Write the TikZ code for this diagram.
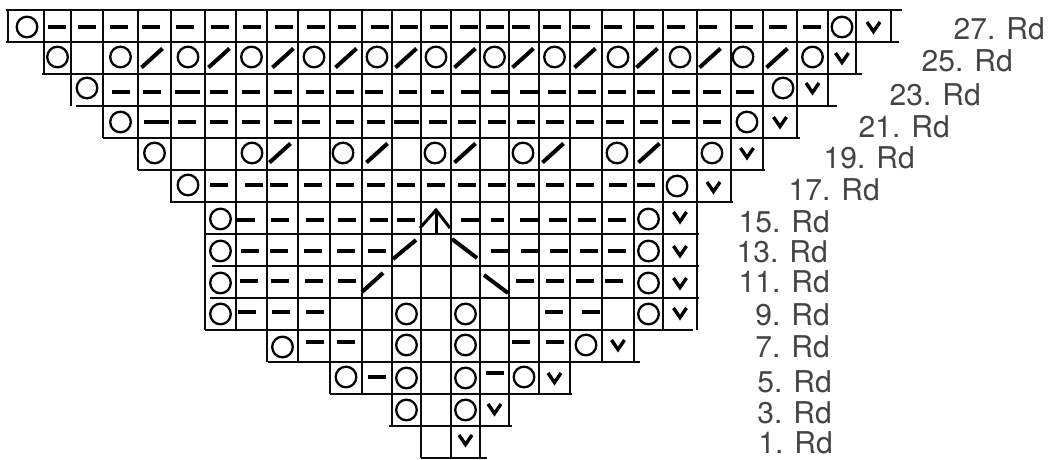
\documentclass[tikz,border=0pt]{standalone}
\usepackage{fontspec}
\setmainfont{TeX Gyre Heros}
\definecolor{ink}{HTML}{0A0A0A}
\definecolor{labelink}{HTML}{444444}
\def\XA{{8,44,71,103,138,171,205,236,267,298,330,362,392,421,451,480,509,539,570,602,634,663,697,731,763,797,828,856,891}}
\def\CA{{26,57.5,87,120.5,154.5,188,220.5,251.5,282.5,314,346,377,406.5,436,465.5,494.5,524,554.5,586,618,648.5,680,713.5,747,780,812.5,842,873.5}}
\tikzset{
  gridline/.style={draw=ink,line width=2pt},
  knitdash/.style={draw=black,line width=4.8pt},
  knitslash/.style={draw=black,line width=4pt},
  knitpeak/.style={draw=black,line width=3pt},
  knitring/.style={draw=black,line width=2.3pt},
  knitvee/.style={draw=black,line width=3.4pt,line join=miter},
  rowlabel/.style={anchor=base east,inner sep=0pt,text=labelink,font=\fontsize{30}{30}\selectfont}
}
\newcommand\ringat[2]{\pgfmathsetmacro\cx{\CA[#1]}\draw[knitring] (\cx,#2) circle (10.3);}
\newcommand\ringx[2]{\draw[knitring] (#1,#2) circle (10.3);}
\newcommand\veeat[2]{\pgfmathsetmacro\cx{\CA[#1]}\draw[knitvee] (\cx-6.5,#2-5) -- (\cx,#2+4.5) -- (\cx+6.5,#2-5);}
\newcommand\slashat[2]{\draw[knitslash] (#1-10.5,#2+9.5) -- (#1+10.5,#2-9.5);}
\begin{document}
\begin{tikzpicture}[x=1pt,y=-1pt]
\useasboundingbox (0,0) rectangle (1050,459);
% rows: top y / left index / right index
\foreach \r/\a/\b in {0/0/28,1/1/27,2/2/26,3/3/25,4/4/24,5/5/23,6/6/22,7/6/22,8/6/22,9/6/22,10/8/20,11/10/18,12/12/16,13/13/15}{
  \foreach \c in {\a,...,\b}{
    \pgfmathsetmacro\vx{\XA[\c]}
    \draw[gridline] (\vx,10+32*\r) -- (\vx,42+32*\r);
  }
}
% horizontal lines
\foreach \y/\p/\q in {10/6/902,42/6/899,74/42/862,106/76/837,138/103/800,170/138/765,202/170/733,234/205/699,266/212/699,298/210/699,330/205/693,362/268/640,394/330/572,426/389/512,458/421/487}{
  \draw[gridline] (\p,\y) -- (\q,\y);
}
% dashes
\foreach \y/\list in {
 27/{57,87,119,151,185,220,252,284,316,347,380,409,439,469,495,521,552,581,613,645,676,708,744,778,812},
 92/{121,152,219,251,283,315,345,374,408,469.5,499.5,529,557,587,617,646,681,712,745},
 122/{187,219,251,283,310.5,345,376,438,467,497,526,555,585,615,649,681,712},
 185/{219,254,279,313,345,376,406,436,467,497,526,555,585,618,646},
 220/{246,280,315,347,379,406,469.5,529,558,587,617},
 251/{249.5,279,313,346,377,500,529.5,559,589,617},
 281/{249,280,314,347,525,555,585,614},
 312/{247,281,315,554,591},
 342/{315,346,521,555},
 377/{376.5},
 373/{495}}{
  \foreach \x in \list {\draw[knitdash] (\x-9,\y) -- (\x+9,\y);}
}
% long and short dashes
\foreach \x/\y/\w in {187.5/92/25,156/122/25,406/122/25,437/92/13,497/220/13}{
  \draw[knitdash] (\x-\w/2,\y) -- (\x+\w/2,\y);
}
% rings
\ringx{27}{27}\ringat{26}{27}
\foreach \c in {1,3,5,...,21}{\ringat{\c}{57}}
\ringx{743}{57}\ringat{25}{57}
\ringat{2}{88}\ringx{783}{88}
\ringat{3}{122}\ringx{747}{122}
\ringat{4}{153}\ringx{252}{153}\ringx{343}{153}\ringx{435}{153}\ringx{523}{153}\ringx{617}{153}\ringx{712}{153}
\ringat{5}{185}\ringx{677}{186}
\foreach \y in {219,251,283,314}{\ringat{6}{\y}\ringat{20}{\y}}
\ringat{8}{347}\ringat{18}{345}
\foreach \y in {314,345,378,410}{\ringat{12}{\y}\ringat{14}{\y}}
\ringat{10}{377}\ringat{16}{377}
% vees
\veeat{27}{27}\veeat{26}{58}\veeat{25}{88}\veeat{24}{122}\veeat{23}{153}\veeat{22}{187}
\foreach \y in {217,251,283,313}{\veeat{21}{\y}}
\veeat{19}{345}\veeat{17}{378}\veeat{15}{409}\veeat{14}{440}
% slashes
\foreach \x in {152,219,283,346,406,465,523,585,647,710,777}{\slashat{\x}{58}}
\foreach \x in {280,377,465,553,649}{\slashat{\x}{153}}
% decreases
\draw[knitslash] (393,259) -- (416,240);
\draw[knitslash] (452,239) -- (477,258);
\draw[knitslash] (362,292) -- (383,273);
\draw[knitslash] (484,275) -- (508,293);
\draw[knitpeak] (420,228) -- (436,210) -- (450,228);
\draw[knitpeak] (436,210) -- (436,233);
% labels
\foreach \n/\x/\y in {27/1045/39,25/1013/71,23/981/105,21/950/137,19/915/168,17/880/200,15/830/232,13/828/262,11/830/292,9/830/325,7/830/357,5/832/392,3/832/423,1/833/453}{
  \node[rowlabel] (lab\n) at (\x,\y) {\n. Rd};
}
\end{tikzpicture}
\end{document}
